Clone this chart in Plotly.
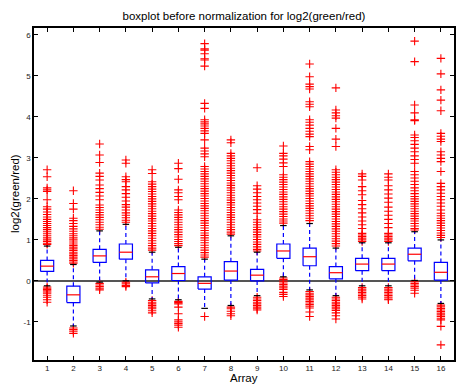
import plotly.graph_objects as go

# ---------------- data ----------------
arrays = list(range(1, 17))
x_tick_labels = [str(a) for a in arrays]
y_tick_values = [-1, 0, 1, 2, 3, 4, 5, 6]
y_tick_labels = ["-1", "0", "1", "2", "3", "4", "5", "6"]

lower_whisker = [-0.12, -1.10, -0.03, 0.00, -0.44, -0.46, -0.67, -0.60,
                 -0.36, 0.10, -0.22, -0.36, -0.12, -0.12, 0.01, -0.55]
q1 = [0.23, -0.53, 0.45, 0.53, -0.05, 0.01, -0.20, 0.02,
      0.00, 0.55, 0.37, 0.05, 0.25, 0.25, 0.49, 0.02]
median = [0.36, -0.34, 0.61, 0.70, 0.10, 0.18, -0.06, 0.24,
          0.14, 0.73, 0.59, 0.20, 0.41, 0.41, 0.65, 0.21]
q3 = [0.50, -0.13, 0.77, 0.90, 0.27, 0.35, 0.10, 0.47,
      0.28, 0.90, 0.80, 0.35, 0.55, 0.55, 0.80, 0.45]
upper_whisker = [0.85, 0.40, 1.22, 1.38, 0.70, 0.82, 0.53, 1.10,
                 0.70, 1.35, 1.40, 0.80, 0.93, 0.93, 1.20, 1.00]

outliers = {
    1: [2.71, 2.54, 2.27, 2.22, 2.18, 1.98, 1.81, 1.75, 1.68, 1.62, 1.56, 1.50, 1.45,
        1.40, 1.35, 1.30, 1.25, 1.20, 1.15, 1.10, 1.05, 1.00, 0.96, 0.92, 0.89,
        -0.15, -0.18, -0.21, -0.24, -0.27, -0.30, -0.35, -0.40, -0.46, -0.52],
    2: [2.20, 1.89, 1.75, 1.53, 1.47, 1.40, 1.33, 1.27, 1.21, 1.15, 1.10, 1.05, 1.00,
        0.95, 0.90, 0.86, 0.82, 0.78, 0.74, 0.70, 0.66, 0.62, 0.58, 0.54, 0.50, 0.46, 0.43,
        -1.15, -1.19, -1.23, -1.28],
    3: [3.34, 3.07, 2.89, 2.63, 2.55, 2.46, 2.34, 2.25, 2.16, 2.07, 1.98, 1.85, 1.79,
        1.73, 1.67, 1.61, 1.55, 1.49, 1.43, 1.37, 1.31, 1.26,
        -0.06, -0.10, -0.14, -0.18, -0.22],
    4: [2.95, 2.87, 2.54, 2.47, 2.42, 2.30, 2.22, 2.13, 2.04, 1.95, 1.86, 1.80, 1.73,
        1.66, 1.60, 1.54, 1.48, 1.43,
        -0.03, -0.07, -0.11, -0.14],
    5: [2.71, 2.62, 2.42, 2.36, 2.30, 2.24, 2.18, 2.12, 2.06, 2.00, 1.94, 1.88, 1.82,
        1.76, 1.70, 1.64, 1.58, 1.52, 1.46, 1.40, 1.34, 1.28, 1.22, 1.16, 1.10, 1.04,
        0.98, 0.92, 0.86, 0.80, 0.75,
        -0.48, -0.52, -0.56, -0.60, -0.64, -0.68, -0.73, -0.78],
    6: [2.87, 2.74, 2.48, 2.22, 2.15, 2.06, 1.98, 1.73, 1.67, 1.61, 1.55, 1.49, 1.43,
        1.37, 1.31, 1.25, 1.19, 1.13, 1.07, 1.01, 0.96, 0.91, 0.86,
        -0.50, -0.53, -0.56, -0.64, -0.80, -0.95, -1.00, -1.04, -1.08, -1.13],
    7: [5.79, 5.66, 5.63, 5.54, 5.42, 5.39, 5.24, 4.33, 4.21, 3.93, 3.88, 3.83, 3.78,
        3.72, 3.66, 3.60, 3.44, 3.24, 3.17, 3.10, 3.03, 2.79, 2.73, 2.67, 2.61, 2.55,
        2.49, 2.43, 2.37, 2.31, 2.25, 2.19, 2.13, 2.07, 2.01, 1.95, 1.89, 1.83, 1.77,
        1.71, 1.65, 1.59, 1.53, 1.47, 1.41, 1.35, 1.29, 1.23, 1.17, 1.11, 1.05, 0.99,
        0.93, 0.87, 0.81, 0.75, 0.69, 0.63, 0.58,
        -0.87],
    8: [3.44, 3.37, 3.11, 3.05, 2.99, 2.93, 2.87, 2.81, 2.75, 2.69, 2.63, 2.57, 2.51,
        2.45, 2.39, 2.33, 2.27, 2.21, 2.15, 2.09, 2.03, 1.97, 1.91, 1.85, 1.79, 1.73,
        1.67, 1.61, 1.55, 1.49, 1.43, 1.37, 1.31, 1.25, 1.19, 1.14,
        -0.64, -0.68, -0.74, -0.80, -0.85],
    9: [2.76, 2.32, 2.24, 2.15, 2.06, 1.98, 1.90, 1.82, 1.74, 1.65, 1.49, 1.43, 1.37,
        1.31, 1.25, 1.19, 1.13, 1.07, 1.01, 0.95, 0.89, 0.83, 0.77, 0.73,
        -0.40, -0.44, -0.48, -0.52, -0.56, -0.60, -0.64, -0.68, -0.71],
    10: [3.29, 3.11, 3.05, 2.97, 2.88, 2.79, 2.59, 2.53, 2.47, 2.41, 2.35, 2.29, 2.23,
         2.17, 2.11, 2.05, 1.99, 1.93, 1.87, 1.81, 1.75, 1.69, 1.63, 1.57, 1.51, 1.46,
         1.41,
         0.07, 0.03, -0.01, -0.05, -0.09, -0.13, -0.17, -0.21, -0.28, -0.33, -0.38],
    11: [5.29, 4.98, 4.80, 4.74, 4.68, 4.37, 4.31, 4.25, 3.93, 3.87, 3.80, 3.72, 3.65,
         3.58, 3.52, 3.28, 3.20, 2.91, 2.85, 2.79, 2.73, 2.67, 2.61, 2.55, 2.49, 2.43,
         2.37, 2.31, 2.25, 2.19, 2.13, 2.07, 2.01, 1.95, 1.89, 1.83, 1.77, 1.71, 1.65,
         1.59, 1.53, 1.47,
         -0.26, -0.30, -0.34, -0.38, -0.42, -0.46, -0.50, -0.54, -0.58, -0.62, -0.66,
         -0.76, -0.87],
    12: [4.71, 4.17, 4.10, 4.03, 3.97, 3.72, 3.46, 3.28, 2.71, 2.65, 2.59, 2.53, 2.47,
         2.41, 2.35, 2.29, 2.23, 2.17, 2.11, 2.05, 1.99, 1.93, 1.87, 1.81, 1.75, 1.69,
         1.63, 1.57, 1.51, 1.45, 1.39, 1.33, 1.27, 1.21, 1.15, 1.09, 1.03, 0.97, 0.91,
         0.85,
         -0.40, -0.44, -0.48, -0.52, -0.56, -0.60, -0.64, -0.68, -0.72, -0.78, -0.85,
         -0.93],
    13: [2.61, 2.55, 2.46, 2.30, 2.20, 2.10, 1.96, 1.86, 1.76, 1.66, 1.56, 1.46, 1.37,
         1.28, 1.16, 1.12, 1.08, 1.04, 1.00, 0.96,
         -0.16, -0.20, -0.24, -0.28, -0.32, -0.36, -0.40, -0.44],
    14: [2.61, 2.53, 2.46, 2.32, 2.22, 2.12, 2.02, 1.92, 1.80, 1.70, 1.60, 1.50, 1.40,
         1.30, 1.16, 1.12, 1.08, 1.04, 1.00, 0.96,
         -0.16, -0.20, -0.24, -0.28, -0.32, -0.36, -0.40, -0.44, -0.46],
    15: [5.85, 5.35, 4.29, 4.10, 3.93, 3.91, 3.56, 3.50, 3.42, 3.33, 3.24, 3.15, 3.05,
         2.96, 2.87, 2.67, 2.59, 2.51, 2.43, 2.35, 2.27, 2.20, 2.13, 2.06, 2.00, 1.94,
         1.88, 1.82, 1.76, 1.70, 1.64, 1.58, 1.52, 1.46, 1.40, 1.34, 1.28, 1.24,
         -0.02, -0.06, -0.10, -0.14, -0.18, -0.23, -0.30],
    16: [5.43, 5.05, 4.66, 4.41, 4.15, 3.60, 3.53, 3.46, 3.40, 3.15, 3.07, 2.99, 2.91,
         2.67, 2.38, 2.30, 2.22, 2.14, 2.06, 1.98, 1.90, 1.82, 1.73, 1.65, 1.59, 1.53,
         1.47, 1.41, 1.35, 1.29, 1.23, 1.17, 1.11, 1.06,
         -0.59, -0.63, -0.67, -0.71, -0.75, -0.79, -0.83, -0.87, -0.91, -0.95, -1.11,
         -1.56],
}

title_text = "boxplot before normalization for log2(green/red)"
x_title = "Array"
y_title = "log2(green/red)"

# ---------------- style ----------------
BOX_HALF = 0.25
CAP_HALF = 0.125
BLUE = "#0000ff"
RED = "#ff0000"
FONT = "Liberation Sans, Arial, Helvetica, sans-serif"

fig = go.Figure()

# zero reference line
fig.add_trace(go.Scatter(x=[0.5, 16.5], y=[0, 0], mode="lines",
                         line=dict(color="#555555", width=2),
                         hoverinfo="skip", showlegend=False))

bx, by, mx, my, wx, wy, cx, cy = [], [], [], [], [], [], [], []
for i, a in enumerate(arrays):
    bx += [a - BOX_HALF, a + BOX_HALF, a + BOX_HALF, a - BOX_HALF, a - BOX_HALF, None]
    by += [q1[i], q1[i], q3[i], q3[i], q1[i], None]
    mx += [a - BOX_HALF, a + BOX_HALF, None]
    my += [median[i], median[i], None]
    wx += [a, a, None, a, a, None]
    wy += [q3[i], upper_whisker[i], None, q1[i], lower_whisker[i], None]
    cx += [a - CAP_HALF, a + CAP_HALF, None, a - CAP_HALF, a + CAP_HALF, None]
    cy += [upper_whisker[i], upper_whisker[i], None, lower_whisker[i], lower_whisker[i], None]

ox, oy = [], []
for a in arrays:
    for v in outliers[a]:
        ox.append(a)
        oy.append(v)

fig.add_trace(go.Scatter(x=ox, y=oy, mode="markers",
                         marker=dict(symbol="cross-thin", size=6,
                                     line=dict(color=RED, width=1.1), color=RED),
                         showlegend=False))
fig.add_trace(go.Scatter(x=wx, y=wy, mode="lines",
                         line=dict(color=BLUE, width=1.2, dash="4px,3px"),
                         showlegend=False))
fig.add_trace(go.Scatter(x=cx, y=cy, mode="lines",
                         line=dict(color="#000000", width=1.2), showlegend=False))
fig.add_trace(go.Scatter(x=bx, y=by, mode="lines",
                         line=dict(color=BLUE, width=1.2), showlegend=False))
fig.add_trace(go.Scatter(x=mx, y=my, mode="lines",
                         line=dict(color=RED, width=1.2), showlegend=False))

fig.update_layout(
    width=456, height=385,
    margin=dict(l=34, r=0, t=28, b=25),
    paper_bgcolor="white", plot_bgcolor="white",
    font=dict(family=FONT, size=8, color="#000000"),
    title=dict(text=title_text, x=0.5, xref="paper", y=1 - 16 / 385, yref="container",
               xanchor="center", yanchor="middle",
               font=dict(family=FONT, size=11.5, color="#000000")),
    xaxis=dict(range=[0.5, 16.5], tickvals=arrays, ticktext=x_tick_labels,
               showgrid=False, zeroline=False, showline=True, linecolor="black",
               linewidth=1.5, mirror="ticks", ticks="inside", ticklen=4,
               tickcolor="black", tickfont=dict(size=8, color="#222222")),
    yaxis=dict(range=[-1.93, 6.17], tickvals=y_tick_values, ticktext=y_tick_labels,
               showgrid=False, zeroline=False, showline=True, linecolor="black",
               linewidth=1.5, mirror="ticks", ticks="inside", ticklen=4,
               tickcolor="black", tickfont=dict(size=8, color="#222222")),
    annotations=[
        dict(text=x_title, xref="paper", yref="paper", x=0.5, y=0,
             xanchor="center", yanchor="middle", yshift=-18, showarrow=False,
             font=dict(family=FONT, size=11.5, color="#000000")),
        dict(text=y_title, xref="paper", yref="paper", x=0, y=0.5,
             xanchor="center", yanchor="middle", xshift=-19, textangle=-90,
             showarrow=False, font=dict(family=FONT, size=11.5, color="#000000")),
    ],
)

fig.write_html("out.html")
